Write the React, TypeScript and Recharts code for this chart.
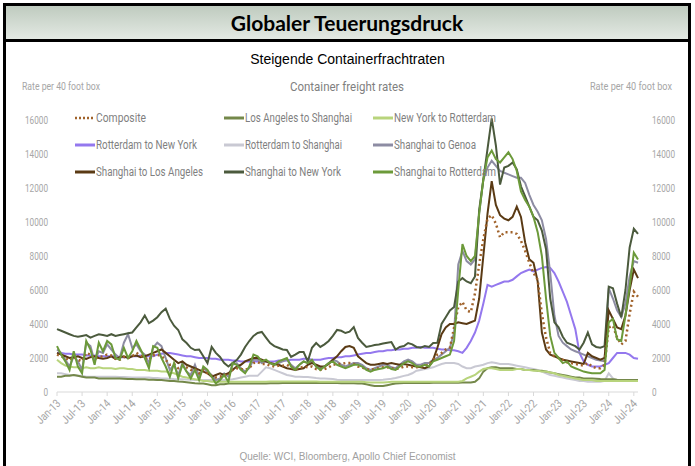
import { LineChart, Line, XAxis, YAxis } from "recharts";

// monthly values, Jan 2013 .. Aug 2024 (USD per 40ft box)
const COMPOSITE = [
  2200, 2100, 2000, 1850, 2050, 1900, 1800, 2300, 2200, 1950, 2050, 2100,
  2200, 2150, 1950, 1900, 2050, 2000, 2100, 2300, 2150, 2000, 1900, 2150,
  2200, 2100, 1900, 1600, 1650, 1400, 1550, 1450, 1300, 1350, 1100, 1300,
  1100, 950, 850, 900, 1000, 950, 1300, 1400, 1350, 1300, 1400, 1700,
  1750, 1650, 1650, 1550, 1500, 1550, 1550, 1600, 1450, 1350, 1400, 1500,
  1450, 1500, 1350, 1300, 1350, 1450, 1600, 1650, 1650, 1700, 1700, 1650,
  1500, 1450, 1350, 1300, 1350, 1400, 1450, 1450, 1400, 1350, 1400, 1500,
  1500, 1450, 1450, 1500, 1550, 1600, 1900, 2200, 2300, 2500, 2600, 3800,
  5000, 5300, 4800, 4700, 5800, 7500, 9000, 10200, 10400, 9900, 9100, 9400,
  9400, 9400, 9300, 8900, 8300, 7600, 7000, 6600, 4600, 3200, 2300, 2100,
  2000, 1900, 1750, 1700, 1650, 1600, 1550, 1700, 1500, 1400, 1400, 1600,
  3800, 3900, 3200, 2800, 3000, 4600, 5900, 5600,
];

const LA_SHANGHAI = [
  900, 900, 950, 950, 1000, 950, 900, 850, 850, 850, 800, 800,
  800, 800, 800, 800, 780, 760, 760, 750, 750, 750, 720, 720,
  700, 700, 680, 650, 650, 620, 600, 580, 550, 520, 500, 500,
  450, 400, 400, 450, 450, 500, 500, 500, 500, 500, 500, 500,
  500, 500, 500, 520, 520, 520, 530, 530, 530, 530, 530, 530,
  530, 530, 530, 530, 530, 530, 530, 530, 520, 520, 520, 520,
  500, 500, 450, 400, 350, 350, 350, 400, 450, 500, 520, 530,
  530, 530, 530, 530, 530, 530, 540, 540, 540, 540, 550, 550,
  550, 560, 560, 560, 600, 800, 1200, 1400, 1450, 1450, 1400, 1400,
  1400, 1400, 1350, 1350, 1300, 1300, 1300, 1250, 1250, 1200, 1150, 1100,
  1050, 1000, 950, 900, 850, 850, 800, 800, 800, 780, 760, 750,
  750, 750, 720, 700, 700, 700, 700, 700,
];

const NY_ROTTERDAM = [
  1900, 1700, 1550, 1500, 1450, 1450, 1400, 1450, 1400, 1400, 1450, 1400,
  1400, 1400, 1350, 1400, 1400, 1350, 1350, 1300, 1300, 1300, 1250, 1250,
  1250, 1200, 1200, 1150, 1100, 1000, 900, 850, 800, 750, 700, 650,
  650, 600, 600, 600, 600, 600, 600, 600, 600, 600, 600, 600,
  600, 600, 600, 620, 620, 620, 620, 620, 620, 620, 620, 620,
  620, 620, 620, 600, 600, 600, 600, 600, 600, 600, 600, 600,
  600, 600, 580, 560, 560, 560, 560, 580, 600, 600, 600, 600,
  600, 600, 600, 600, 600, 600, 600, 600, 600, 600, 600, 600,
  600, 650, 800, 900, 1000, 1200, 1350, 1400, 1400, 1350, 1300, 1300,
  1300, 1300, 1350, 1350, 1300, 1300, 1250, 1250, 1200, 1200, 1150, 1100,
  1000, 950, 900, 850, 800, 750, 700, 700, 700, 650, 650, 650,
  650, 650, 650, 650, 650, 650, 650, 650,
];

const ROTTERDAM_NY = [
  2300, 2300, 2250, 2250, 2200, 2200, 2200, 2150, 2150, 2150, 2100, 2100,
  2100, 2100, 2100, 2050, 2050, 2050, 2100, 2100, 2150, 2150, 2100, 2100,
  2200, 2250, 2300, 2300, 2250, 2200, 2150, 2100, 2100, 2050, 2000, 2000,
  2000, 1950, 1950, 1900, 1900, 1900, 1850, 1850, 1800, 1800, 1800, 1800,
  1800, 1800, 1800, 1800, 1800, 1850, 1850, 1850, 1900, 1900, 1900, 1950,
  1950, 1900, 1900, 1900, 1950, 2000, 2000, 2050, 2050, 2100, 2100, 2150,
  2200, 2250, 2300, 2300, 2350, 2400, 2400, 2450, 2450, 2500, 2500, 2550,
  2550, 2600, 2600, 2650, 2600, 2600, 2600, 2550, 2500, 2500, 2450, 2450,
  2400, 2300, 2600, 3000, 3500, 4200, 5200, 6300, 6200, 6300, 6400, 6500,
  6500, 6600, 6800, 7000, 7100, 7200, 7100, 7200, 7300, 7350, 7300, 7000,
  6500, 5900, 5300, 4500, 3700, 2300, 1800, 1600, 1500, 1500, 1500, 1600,
  1700, 2000, 2300, 2300, 2300, 2200, 2000, 1950,
];

const ROTTERDAM_SHANGHAI = [
  1100, 1100, 1050, 1000, 1000, 950, 950, 900, 900, 900, 900, 900,
  900, 900, 900, 880, 880, 870, 860, 850, 850, 850, 850, 820,
  820, 800, 800, 780, 760, 750, 750, 730, 720, 700, 700, 700,
  700, 700, 700, 700, 700, 720, 750, 800, 850, 900, 950, 950,
  950, 1200, 1450, 1400, 1300, 1200, 1100, 1000, 950, 900, 900, 880,
  880, 850, 820, 800, 800, 780, 760, 720, 700, 700, 700, 700,
  700, 700, 700, 700, 700, 700, 720, 750, 780, 820, 880, 950,
  1000, 1100, 1250, 1300, 1350, 1400, 1450, 1550, 1650, 1700, 1700, 1700,
  1650, 1500, 1400, 1400, 1500, 1550, 1600, 1700, 1750, 1700, 1650, 1650,
  1650, 1600, 1550, 1500, 1450, 1400, 1350, 1300, 1200, 1100, 1000, 950,
  900, 850, 800, 750, 700, 650, 650, 600, 600, 600, 600, 650,
  1100, 800, 700, 650, 650, 650, 650, 650,
];

const SHANGHAI_GENOA = [
  2500, 2300, 1900, 1500, 2100, 1800, 1300, 2900, 2700, 1800, 2400, 2300,
  2800, 2500, 2200, 2000, 2900, 3400, 2600, 2800, 2400, 2200, 1700, 2600,
  2900, 2700, 2000, 1300, 1600, 1000, 1700, 1200, 1000, 1600, 900, 1400,
  1200, 1000, 700, 800, 1100, 900, 1600, 1700, 1400, 1200, 1400, 1900,
  1900, 1700, 1800, 1700, 1600, 1700, 1800, 1900, 1600, 1400, 1600, 1800,
  1700, 1800, 1500, 1400, 1500, 1700, 1900, 1800, 1600, 1500, 1600, 1700,
  1700, 1600, 1400, 1300, 1400, 1500, 1600, 1600, 1450, 1400, 1600, 1800,
  1900, 1800, 1600, 1600, 1700, 1700, 1900, 2000, 2200, 2400, 2600, 3500,
  7500, 8300, 7700, 7500, 7800, 10500, 12500, 13200, 13600, 13300, 13000, 12900,
  12800, 12700, 12600, 12600, 12300, 11600, 11000, 10600, 10100, 9000, 7000, 4500,
  3300, 2900, 2700, 2500, 2400, 2300, 2200, 2100, 2000, 1900, 1850, 1800,
  6100, 5500, 4800, 4400, 5200, 6800, 7700, 7600,
];

const SHANGHAI_LA = [
  2300, 2200, 2100, 2000, 2050, 2100, 2000, 1950, 2050, 2100, 2000, 1950,
  2000, 2100, 1950, 2050, 2100, 2000, 2100, 2150, 2050, 2100, 2200, 2300,
  2400, 2500, 2300, 2100, 1900, 1700, 1800, 1600, 1500, 1400, 1300, 1200,
  1100, 900, 1000, 1100, 1000, 1100, 1300, 1500, 1600, 1800, 1900, 2000,
  2000, 1900, 1800, 1700, 1650, 1600, 1500, 1400, 1350, 1300, 1350, 1400,
  1600, 1700, 1600, 1500, 1500, 1650, 1900, 2100, 2400, 2650, 2700, 2600,
  2100, 1900, 1700, 1600, 1600, 1650, 1700, 1650, 1700, 1650, 1600, 1650,
  1600, 1550, 1500, 1450, 1400, 1500, 1900, 2600, 3400, 3800, 4000, 4000,
  4100, 4050, 4000, 4100, 4200, 5500, 8000, 10500, 12400, 11000, 10400, 10200,
  10100, 10300, 10900, 10300, 8800, 7800, 7600, 6500, 3500, 2500, 2200, 2100,
  2000, 1900, 1850, 1800, 1750, 1700, 1650, 2300, 2100, 2000, 1900, 2000,
  4800, 4300, 3800, 3700, 4500, 6000, 7200, 6700,
];

const SHANGHAI_NY = [
  3700, 3600, 3500, 3400, 3300, 3250, 3300, 3350, 3200, 3300, 3400, 3350,
  3300, 3400, 3300, 3350, 3400, 3450, 3500, 3800, 4100, 4500, 4050, 4200,
  4400, 4700, 4900, 4300, 3900, 3650, 3100, 2880, 2600, 2470, 2500, 2100,
  1700, 2650, 2300, 2060, 1700, 1500, 1700, 1880, 2200, 2650, 3000, 3300,
  3470, 3530, 3200, 2880, 2700, 2600, 2500, 2470, 2060, 2200, 2350, 2350,
  1800, 2600, 2880, 2650, 2800, 3000, 3300, 3650, 3600, 3470, 3550, 3820,
  3180, 2900, 2650, 2700, 2760, 2800, 2850, 2900, 2940, 2500, 2650, 2700,
  2880, 2800, 2650, 2600, 2700, 2650, 2880, 2900, 4000, 4400, 4800, 5000,
  6500, 6700, 6500, 6400, 6800, 10700, 12500, 14300, 16100, 14500, 12200, 13200,
  13300, 13500, 13100, 12100, 11500, 10900, 10300, 10100, 9500, 8400, 5500, 4100,
  3800, 3250, 2900, 2800, 2700, 2500, 2900, 3500, 2800, 2650, 2600, 2700,
  6200, 6100, 5200, 4400, 6000, 8500, 9600, 9300,
];

const SHANGHAI_ROTTERDAM = [
  2700, 2200, 1800, 1300, 2400, 1500, 1100, 3000, 2500, 1600, 2900, 2400,
  3000, 2800, 2000, 1900, 2600, 2000, 2400, 3000, 2500, 2000, 1400, 2700,
  2600, 2000, 1500, 900, 1700, 800, 1600, 1200, 800, 1300, 700, 1500,
  1300, 900, 500, 700, 1000, 600, 1700, 1600, 1300, 1100, 1500, 2200,
  2100, 1800, 1900, 1700, 1600, 1800, 1900, 2000, 1500, 1300, 1600, 1800,
  1700, 1900, 1500, 1300, 1500, 1700, 1800, 1600, 1500, 1400, 1500, 1600,
  1600, 1500, 1300, 1200, 1300, 1350, 1400, 1500, 1350, 1300, 1500, 1700,
  1800, 1700, 1500, 1500, 1600, 1500, 1800, 1900, 2000, 2100, 2200, 3000,
  6000, 8700, 8000, 7700, 8000, 10500, 12500, 13800, 14200, 13700, 13500, 13800,
  14100, 13700, 13000, 11800, 11300, 10900, 10300, 9400, 8000, 5500, 3300, 2300,
  2000, 1700, 1800, 1500, 1400, 1300, 1200, 1150, 1100, 1100, 1100, 1300,
  4100, 4300, 3100, 3000, 4500, 6200, 8200, 7800,
];

const TICK_LABELS = [
  "Jan-13", "Jul-13", "Jan-14", "Jul-14", "Jan-15", "Jul-15", "Jan-16", "Jul-16",
  "Jan-17", "Jul-17", "Jan-18", "Jul-18", "Jan-19", "Jul-19", "Jan-20", "Jul-20",
  "Jan-21", "Jul-21", "Jan-22", "Jul-22", "Jan-23", "Jul-23", "Jan-24", "Jul-24",
];
const Y_TICKS = [0, 2000, 4000, 6000, 8000, 10000, 12000, 14000, 16000];

// legend label widths as they appear in the (horizontally squeezed) original
const SERIES = [
  { key: "composite", name: "Composite", color: "#a0622a", dotted: true, w: 50 },
  { key: "laSh", name: "Los Angeles to Shanghai", color: "#74884a", w: 107 },
  { key: "nyR", name: "New York to Rotterdam", color: "#b8d47c", w: 102 },
  { key: "rNy", name: "Rotterdam to New York", color: "#9478ee", w: 101 },
  { key: "rSh", name: "Rotterdam to Shanghai", color: "#c9c9d3", w: 97 },
  { key: "sGe", name: "Shanghai to Genoa", color: "#8d8ca3", w: 82 },
  { key: "sLa", name: "Shanghai to Los Angeles", color: "#5a3a14", w: 107 },
  { key: "sNy", name: "Shanghai to New York", color: "#4b5a3d", w: 96 },
  { key: "sR", name: "Shanghai to Rotterdam", color: "#6c9a3a", w: 102 },
];

const rows = COMPOSITE.map((v, i) => ({
  i,
  composite: v,
  laSh: LA_SHANGHAI[i],
  nyR: NY_ROTTERDAM[i],
  rNy: ROTTERDAM_NY[i],
  rSh: ROTTERDAM_SHANGHAI[i],
  sGe: SHANGHAI_GENOA[i],
  sLa: SHANGHAI_LA[i],
  sNy: SHANGHAI_NY[i],
  sR: SHANGHAI_ROTTERDAM[i],
}));

const FONT = "Roboto, 'DejaVu Sans', sans-serif";
const GREY = "#a6a6a6";
const TEXT_GREY = "#7f7f7f";

const XTick = ({ x, y, payload }: any) => (
  <g transform={`translate(${x},${y + 2})`}>
    <text x={0} y={0} dy={6} textAnchor="end" transform="rotate(-45)" fill={GREY} fontSize={11.5} fontFamily={FONT}
      textLength={29} lengthAdjust="spacingAndGlyphs">
      {TICK_LABELS[payload.value / 6]}
    </text>
  </g>
);

const YTick = ({ y, payload, side }: any) => {
  const s = String(payload.value);
  return (
    <text x={side === "left" ? 48 : 652} y={y} dy={4} textAnchor={side === "left" ? "end" : "start"}
      fill={GREY} fontSize={11.5} fontFamily={FONT} textLength={s.length * 4.6} lengthAdjust="spacingAndGlyphs">
      {s}
    </text>
  );
};

const LEGEND_X = [75, 224, 373];
const LEGEND_Y = [118, 145, 172];

const drawOrder = ["rSh", "laSh", "nyR", "rNy", "sGe", "sNy", "sLa", "composite", "sR"];

export default function App() {
  return (
    <div style={{ position: "absolute", left: 0, top: 0, width: 695, height: 466, background: "#fff", overflow: "hidden" }}>
      <div style={{ position: "absolute", left: 3, top: 3, width: 688, height: 500, border: "3px solid #000", boxSizing: "border-box" }} />
      <div style={{
        position: "absolute", left: 6, top: 6, width: 682, height: 33,
        background: "linear-gradient(#bfcbbf, #e3e9e3)", textAlign: "center",
        fontFamily: "Lato, sans-serif", fontWeight: 700, fontSize: 21, lineHeight: "33px", color: "#000",
      }}>
        Globaler Teuerungsdruck
      </div>
      <div style={{ position: "absolute", left: 3, top: 39, width: 688, height: 3, background: "#000" }} />
      <div style={{ position: "absolute", left: 0, top: 51, width: 695, textAlign: "center", fontFamily: "'Liberation Sans', Arial, sans-serif", fontSize: 14, color: "#000" }}>
        Steigende Containerfrachtraten
      </div>

      <div style={{ position: "absolute", left: 0, top: 0 }}>
        <LineChart width={695} height={466} data={rows} margin={{ top: 86, right: 0, bottom: 0, left: 0 }}>
          <XAxis dataKey="i" type="number" domain={[0, 139]} ticks={TICK_LABELS.map((_, k) => k * 6)} interval={0}
            height={74} tick={<XTick />} axisLine={{ stroke: "#d9d9d9" }} tickLine={{ stroke: "#d9d9d9" }} tickSize={4} />
          <YAxis yAxisId="left" domain={[0, 18000]} ticks={Y_TICKS} width={57} axisLine={false} tickLine={false}
            tick={<YTick side="left" />} />
          <YAxis yAxisId="right" orientation="right" domain={[0, 18000]} ticks={Y_TICKS} width={57} axisLine={false} tickLine={false}
            tick={<YTick side="right" />} />
          {drawOrder.map((k) => {
            const s = SERIES.find((x) => x.key === k)!;
            return (
              <Line key={k} yAxisId={k === "rSh" ? "right" : "left"} type="linear" dataKey={k} name={s.name}
                stroke={s.color} strokeWidth={s.dotted ? 2.5 : 2} strokeDasharray={s.dotted ? "2 3" : undefined}
                dot={false} isAnimationActive={false} />
            );
          })}
        </LineChart>
      </div>

      <svg width={695} height={466} style={{ position: "absolute", left: 0, top: 0, pointerEvents: "none" }}>
        <text x={22} y={90} fontFamily={FONT} fontSize={11.5} fill={GREY} textLength={78} lengthAdjust="spacingAndGlyphs">Rate per 40 foot box</text>
        <text x={590} y={90} fontFamily={FONT} fontSize={11.5} fill={GREY} textLength={82} lengthAdjust="spacingAndGlyphs">Rate per 40 foot box</text>
        <text x={290} y={91} fontFamily={FONT} fontSize={13.5} fill={TEXT_GREY} textLength={114} lengthAdjust="spacingAndGlyphs">Container freight rates</text>
        {SERIES.map((s, n) => {
          const x = LEGEND_X[n % 3];
          const y = LEGEND_Y[Math.floor(n / 3)];
          return (
            <g key={s.key}>
              <line x1={x} y1={y} x2={x + 20} y2={y} stroke={s.color} strokeWidth={s.dotted ? 2.5 : 3}
                strokeDasharray={s.dotted ? "2 2" : undefined} />
              <text x={x + 21} y={y + 4} fontFamily={FONT} fontSize={12} fill={TEXT_GREY}
                textLength={s.w} lengthAdjust="spacingAndGlyphs">{s.name}</text>
            </g>
          );
        })}
      </svg>

      <div style={{ position: "absolute", left: 0, top: 451, width: 695, textAlign: "center", fontFamily: "'Liberation Sans', Arial, sans-serif", fontSize: 10, color: "#a0a0a0" }}>
        Quelle: WCI, Bloomberg, Apollo Chief Economist
      </div>
    </div>
  );
}
